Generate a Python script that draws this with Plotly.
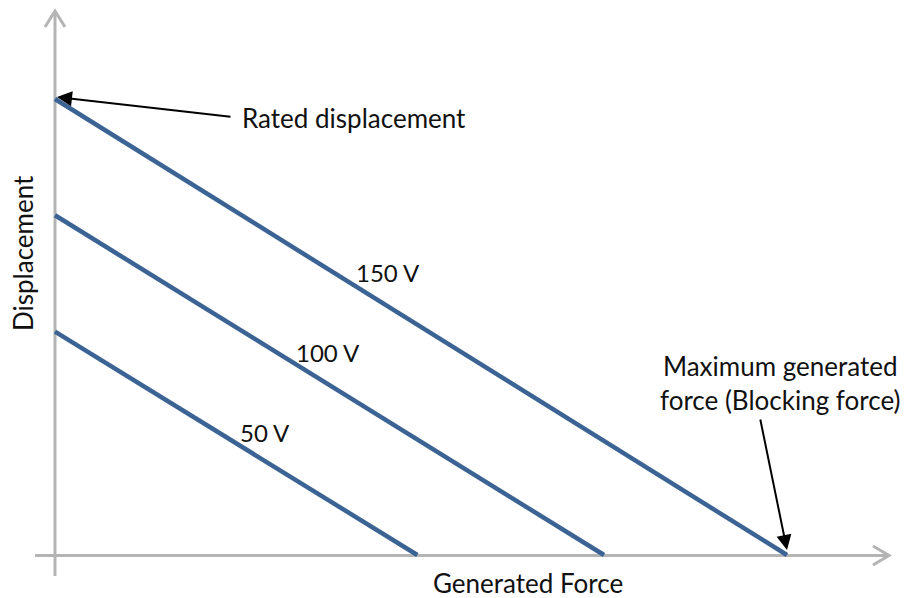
import plotly.graph_objects as go

# ---- data (relative units, % of rated values) ----
voltages = ["50 V", "100 V", "150 V"]
free_displacement = [49.0, 74.5, 100.0]   # displacement at zero force
blocking_force = [49.5, 75.0, 100.0]      # force at zero displacement
axis_titles = ["Generated Force", "Displacement"]
callouts = ["Rated displacement", "Maximum generated<br>force (Blocking force)"]

# ---- layout helpers: pixel -> data ----
W, H = 906, 598
X0, Y0 = 55, 555          # pixel of origin
SX, SY = 7.32, 4.56       # pixels per unit


def dx(p):
    return (p - X0) / SX


def dy(p):
    return (Y0 - p) / SY


fig = go.Figure()

line_color = "#3b6394"
for v, d, f in zip(voltages, free_displacement, blocking_force):
    fig.add_trace(go.Scatter(x=[0, f], y=[d, 0], mode="lines",
                             line=dict(color=line_color, width=4.5),
                             name=v, showlegend=False, hoverinfo="skip"))

gray = "#b4b4b4"
shapes = [
    dict(type="line", x0=dx(55), x1=dx(55), y0=dy(576), y1=dy(11)),
    dict(type="line", x0=dx(35), x1=dx(889), y0=dy(555.5), y1=dy(555.5)),
    dict(type="path", path=f"M {dx(45)},{dy(27)} L {dx(55)},{dy(11)} L {dx(65)},{dy(27)}"),
    dict(type="path", path=f"M {dx(873)},{dy(546)} L {dx(889)},{dy(555.5)} L {dx(873)},{dy(565)}"),
]
for s in shapes:
    s.update(xref="x", yref="y", line=dict(color=gray, width=3), layer="below")
fig.update_layout(shapes=shapes)

fam = "Lato, 'Open Sans', sans-serif"
font = dict(family=fam, size=26, color="#111111")
font_v = dict(family=fam, size=24, color="#111111")
ann = []
label_px = [(265, 432), (328, 352), (388, 272)]
for v, (lx, ly) in zip(voltages, label_px):
    ann.append(dict(x=dx(lx), y=dy(ly), text=v, showarrow=False, font=font_v,
                    xanchor="center", yanchor="middle"))
ann.append(dict(x=dx(57), y=dy(97), ax=232 - 57, ay=117 - 97,
                text="", showarrow=True, arrowhead=2, arrowsize=1.5, arrowwidth=2,
                arrowcolor="#000000"))
ann.append(dict(x=dx(240), y=dy(118), text=callouts[0], showarrow=False, font=font,
                xanchor="left", yanchor="middle"))
ann.append(dict(x=dx(787), y=dy(550), ax=760 - 787, ay=418 - 550,
                text="", showarrow=True, arrowhead=2, arrowsize=1.5, arrowwidth=2,
                arrowcolor="#000000"))
ann.append(dict(x=dx(780), y=dy(383), text=callouts[1], showarrow=False, font=font,
                xanchor="center", yanchor="middle", align="center"))
ann.append(dict(x=dx(528), y=dy(583), text=axis_titles[0], showarrow=False, font=font,
                xanchor="center", yanchor="middle"))
ann.append(dict(x=dx(23), y=dy(253), text=axis_titles[1], showarrow=False, font=font,
                xanchor="center", yanchor="middle", textangle=-90))
fig.update_layout(annotations=ann)

fig.update_layout(
    width=W, height=H,
    margin=dict(l=0, r=0, t=0, b=0, pad=0),
    paper_bgcolor="white", plot_bgcolor="white",
    xaxis=dict(range=[dx(0), dx(W)], visible=False, fixedrange=True),
    yaxis=dict(range=[dy(H), dy(0)], visible=False, fixedrange=True),
    showlegend=False,
)

fig.write_html("out.html", config={"displayModeBar": False},
               post_script="document.body.style.margin='0';document.body.style.overflow='hidden';")
